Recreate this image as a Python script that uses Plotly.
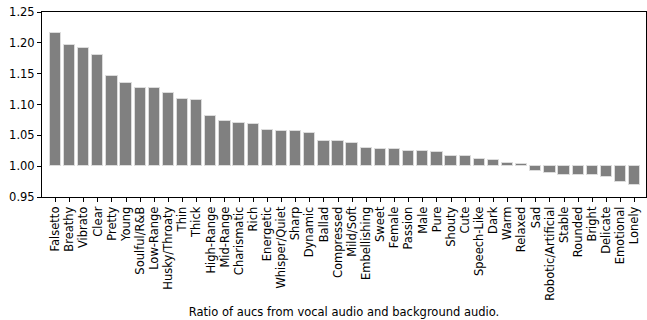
import plotly.graph_objects as go

categories = ["Falsetto", "Breathy", "Vibrato", "Clear", "Pretty", "Young", "Soulful/R&B",
              "Low-Range", "Husky/Throaty", "Thin", "Thick", "High-Range", "Mid-Range",
              "Charismatic", "Rich", "Energetic", "Whisper/Quiet", "Sharp", "Dynamic", "Ballad",
              "Compressed", "Mild/Soft", "Embellishing", "Sweet", "Female", "Passion", "Male",
              "Pure", "Shouty", "Cute", "Speech-Like", "Dark", "Warm", "Relaxed", "Sad",
              "Robotic/Artificial", "Stable", "Rounded", "Bright", "Delicate", "Emotional", "Lonely"]
values = [1.216, 1.197, 1.191, 1.180, 1.146, 1.135, 1.127, 1.126, 1.119, 1.109, 1.108,
          1.082, 1.074, 1.070, 1.068, 1.059, 1.057, 1.057, 1.054, 1.041,
          1.041, 1.037, 1.030, 1.028, 1.028, 1.025, 1.025, 1.023, 1.017, 1.017,
          1.012, 1.010, 1.005, 1.003, 0.992, 0.989, 0.986, 0.985, 0.985, 0.982, 0.974, 0.970]
baseline = 1.0
yticks = [0.95, 1.00, 1.05, 1.10, 1.15, 1.20, 1.25]
title = "Ratio of aucs from vocal audio and background audio."

fig = go.Figure(go.Bar(
    x=list(range(len(categories))),
    y=[v - baseline for v in values],
    base=baseline,
    width=0.8,
    marker=dict(color="#808080", line=dict(color="#dcdcdc", width=1)),
))

font = dict(family="DejaVu Sans", size=11.5, color="black")
fig.update_layout(
    width=647, height=320,
    margin=dict(l=42, r=1, t=12, b=123),
    plot_bgcolor="white", paper_bgcolor="white",
    showlegend=False, font=font, bargap=0,
)
fig.update_xaxes(
    range=[-0.95, len(categories) - 0.2],
    tickmode="array", tickvals=list(range(len(categories))), ticktext=categories,
    tickangle=-90, ticks="outside", ticklen=4, tickcolor="black",
    showline=True, linecolor="black", linewidth=1, mirror=True,
    showgrid=False, zeroline=False, tickfont=font, automargin=False,
    title=dict(text=title, font=font, standoff=8),
)
fig.update_yaxes(
    range=[0.95, 1.25],
    tickmode="array", tickvals=yticks, ticktext=[f"{t:.2f}" for t in yticks],
    ticks="outside", ticklen=4, tickcolor="black",
    showline=True, linecolor="black", linewidth=1, mirror=True,
    showgrid=False, zeroline=False, tickfont=font, automargin=False,
)
fig.write_html("out.html", config={"displayModeBar": False},
               post_script="document.body.style.margin='0';document.body.style.overflow='hidden';")
